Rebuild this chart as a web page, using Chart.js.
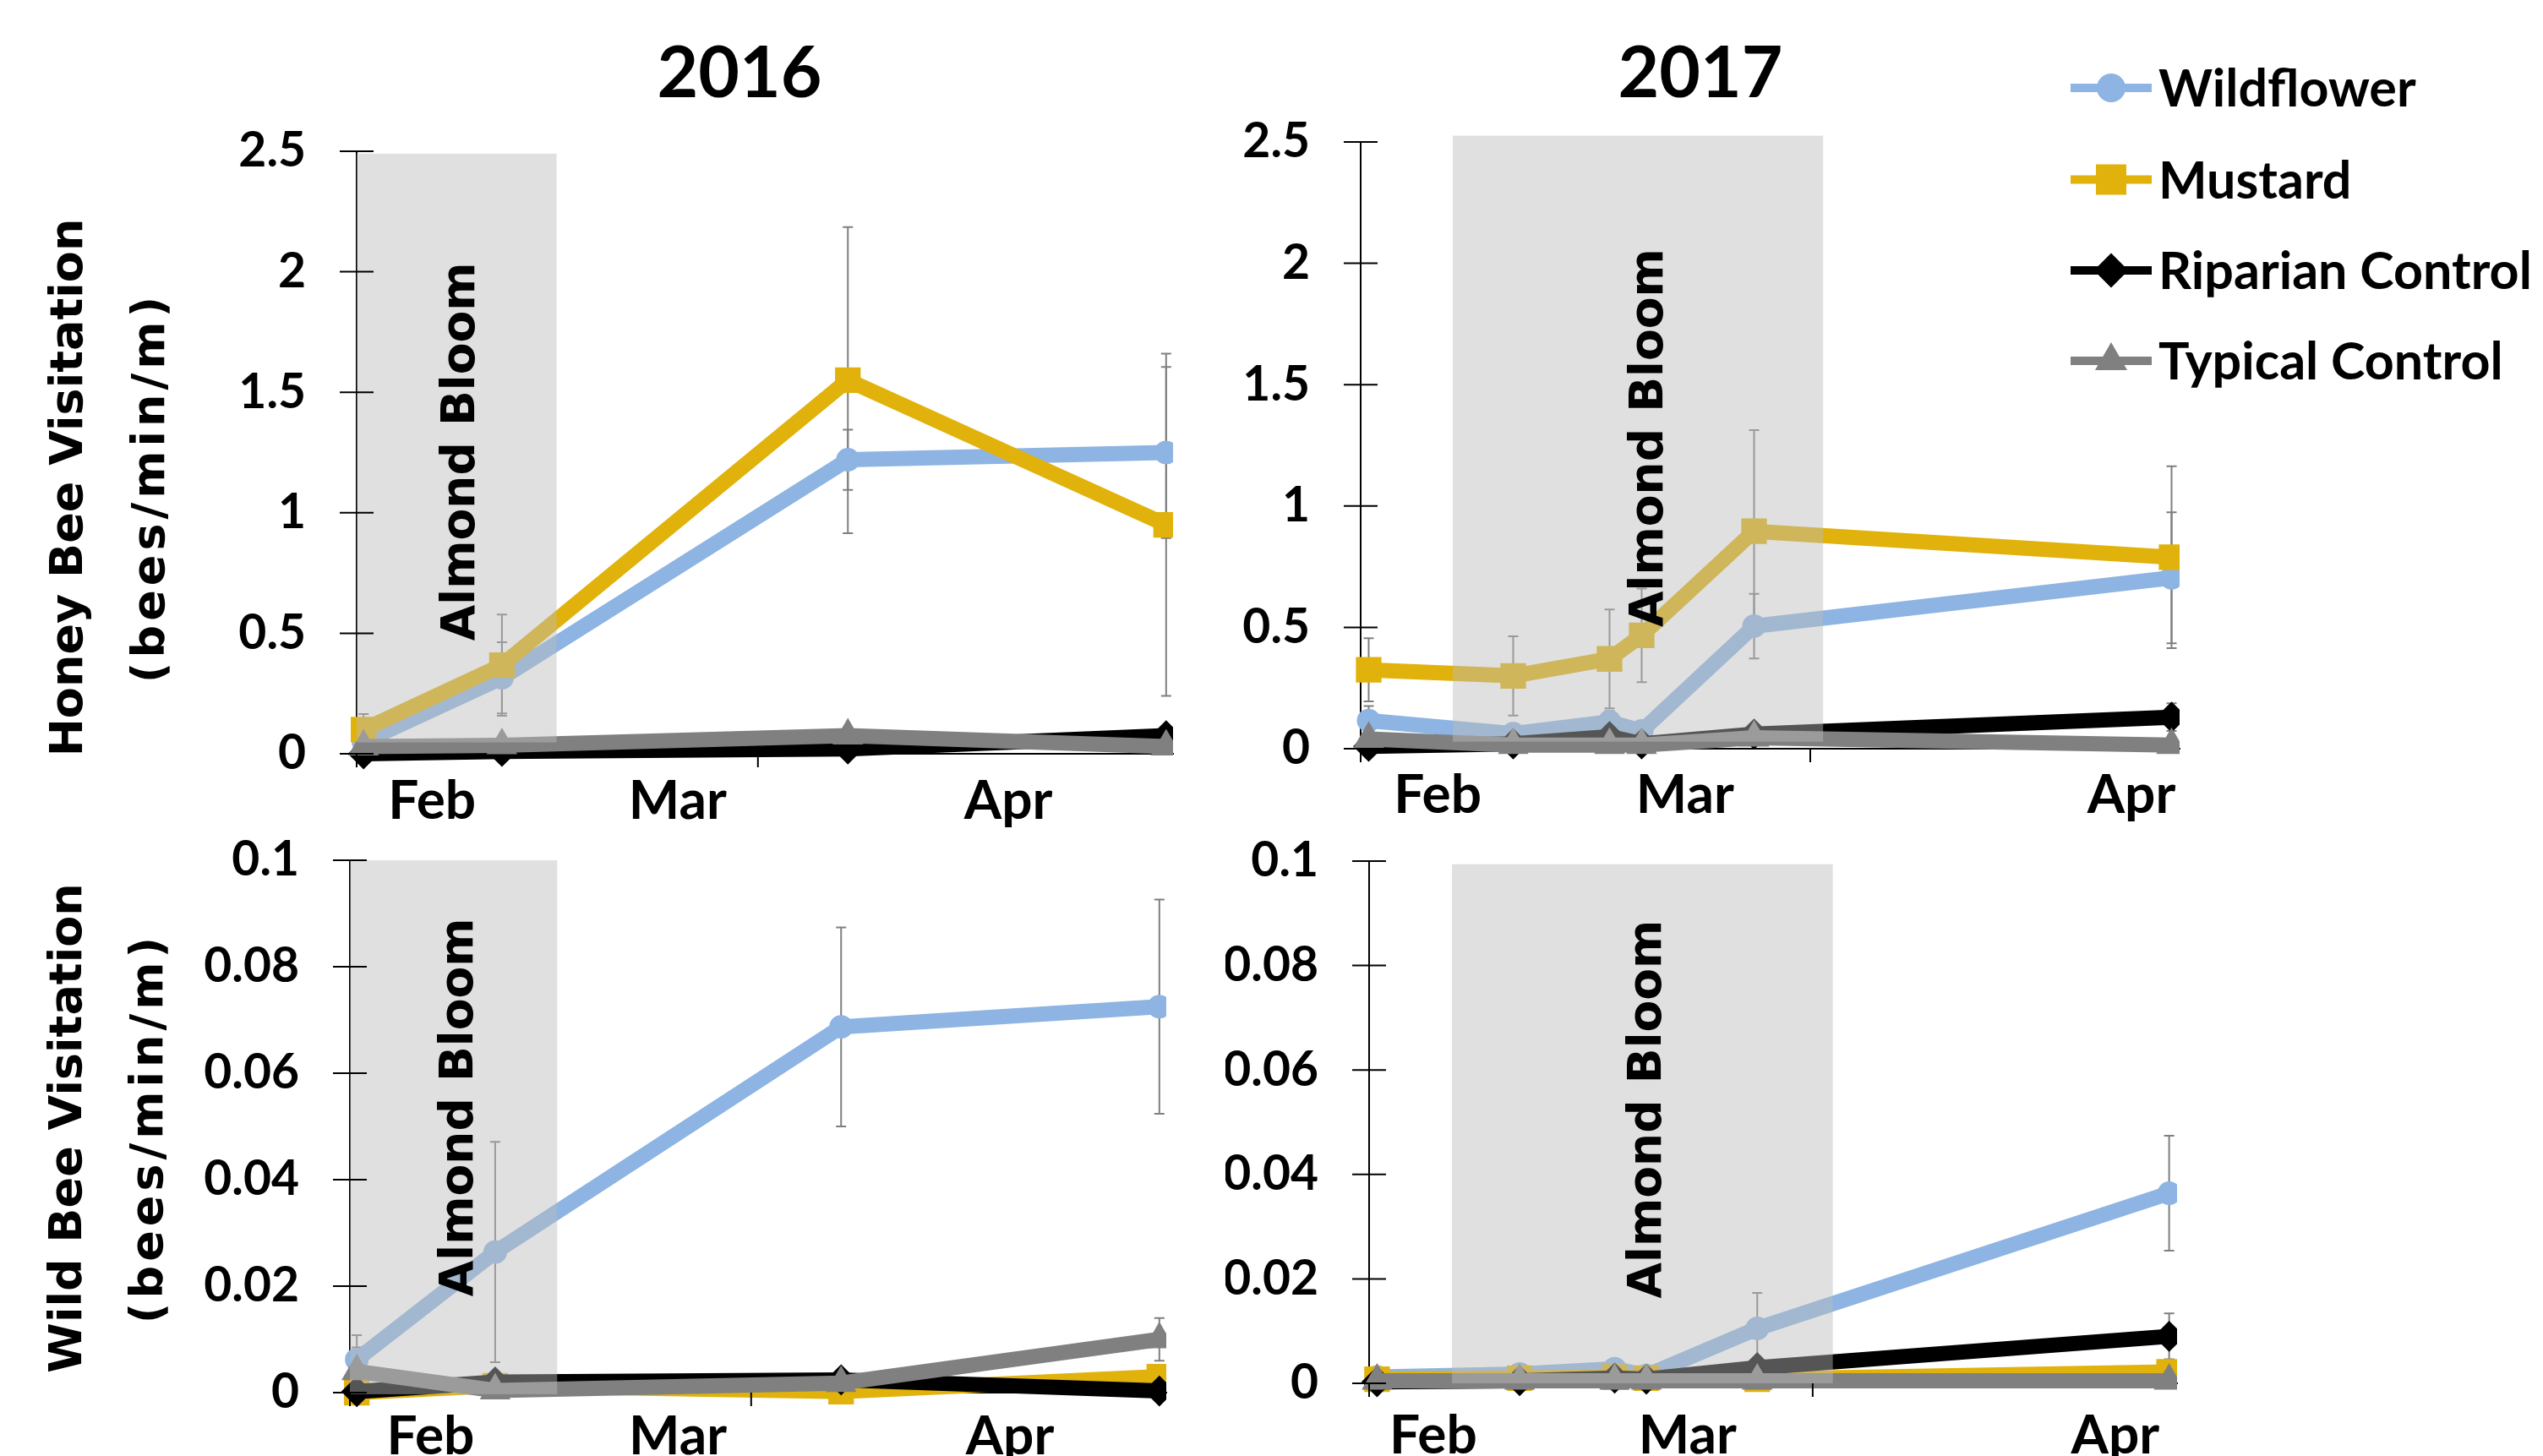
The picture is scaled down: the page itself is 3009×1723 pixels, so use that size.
<!DOCTYPE html>
<html>
<head>
<meta charset="utf-8">
<title>Bee visitation 2016-2017</title>
<script src="https://cdn.jsdelivr.net/npm/chart.js@4.4.1/dist/chart.umd.min.js"></script>
<style>
  html, body { margin: 0; padding: 0; background: #ffffff; }
  body { width: 3009px; height: 1723px; position: relative; overflow: hidden; }
  canvas { position: absolute; }
</style>
</head>
<body>
<script>
// ---------------------------------------------------------------------------
// Data
// ---------------------------------------------------------------------------
const seriesNames = ['Wildflower', 'Mustard', 'Riparian Control', 'Typical Control'];
const monthLabels = ['Feb', 'Mar', 'Apr'];

const honeyTicks = [0, 0.5, 1, 1.5, 2, 2.5];
const honeyTickLabels = ['0', '0.5', '1', '1.5', '2', '2.5'];
const wildTicks = [0, 0.02, 0.04, 0.06, 0.08, 0.1];
const wildTickLabels = ['0', '0.02', '0.04', '0.06', '0.08', '0.1'];

// survey dates, in days counted from 1 February
const surveyDays2016 = [0.5, 10.5, 35.5, 58.5];
const surveyDays2017 = [0.5, 9.5, 15.5, 17.5, 24.5, 50.5];

// honey bee visitation (bees/min/m): means and standard errors
const honey2016Wildflower   = [0.05, 0.315, 1.22, 1.25];
const honey2016WildflowerSE = [0.04, 0.148, 0.125, 0.355];
const honey2016Mustard      = [0.10, 0.368, 1.55, 0.95];
const honey2016MustardSE    = [0.065, 0.21, 0.635, 0.71];
const honey2016Riparian     = [0.0, 0.01, 0.02, 0.075];
const honey2016RiparianSE   = [0, 0, 0.005, 0.01];
const honey2016Typical      = [0.03, 0.035, 0.075, 0.03];
const honey2016TypicalSE    = [0.005, 0.005, 0.01, 0.005];

const honey2017Wildflower   = [0.116, 0.062, 0.111, 0.073, 0.505, 0.704];
const honey2017WildflowerSE = [0.06, 0.02, 0.045, 0.02, 0.133, 0.27];
const honey2017Mustard      = [0.325, 0.30, 0.37, 0.467, 0.896, 0.789];
const honey2017MustardSE    = [0.13, 0.163, 0.204, 0.193, 0.417, 0.375];
const honey2017Riparian     = [0.01, 0.02, 0.05, 0.02, 0.06, 0.13];
const honey2017RiparianSE   = [0.005, 0.005, 0.01, 0.005, 0.01, 0.057];
const honey2017Typical      = [0.04, 0.015, 0.015, 0.015, 0.045, 0.015];
const honey2017TypicalSE    = [0.005, 0.005, 0.005, 0.005, 0.01, 0.005];

// wild bee visitation (bees/min/m): means and standard errors
const wild2016Wildflower   = [0.0062, 0.0264, 0.0687, 0.0725];
const wild2016WildflowerSE = [0.0046, 0.0207, 0.0187, 0.0201];
const wild2016Mustard      = [0.0, 0.0013, 0.0002, 0.003];
const wild2016MustardSE    = [0, 0.0005, 0, 0.001];
const wild2016Riparian     = [0.0002, 0.002, 0.0024, 0.0003];
const wild2016RiparianSE   = [0, 0.0005, 0.0005, 0.0003];
const wild2016Typical      = [0.004, 0.0004, 0.0018, 0.010];
const wild2016TypicalSE    = [0.0045, 0.0004, 0.0005, 0.004];

const wild2017Wildflower   = [0.0012, 0.0018, 0.0028, 0.0015, 0.0105, 0.0364];
const wild2017WildflowerSE = [0.0005, 0.0008, 0.001, 0.0005, 0.0068, 0.011];
const wild2017Mustard      = [0.0008, 0.001, 0.0012, 0.001, 0.0008, 0.0022];
const wild2017MustardSE    = [0, 0, 0, 0, 0, 0.0005];
const wild2017Riparian     = [0.0003, 0.0005, 0.001, 0.0008, 0.003, 0.009];
const wild2017RiparianSE   = [0, 0, 0, 0, 0.0005, 0.0044];
const wild2017Typical      = [0.0005, 0.0005, 0.0005, 0.0005, 0.0005, 0.0005];
const wild2017TypicalSE    = [0, 0, 0, 0, 0, 0];

// ---------------------------------------------------------------------------
// Styling
// ---------------------------------------------------------------------------
const seriesColors  = ['#8DB4E2', '#E0B20B', '#000000', '#808080'];
const seriesMarkers = ['circle', 'rect', 'rectRot', 'triangle'];
const markerRadius  = [13, 20, 17, 19];
const legendRadius  = [16, 24, 19, 20];
const LINE_WIDTH = 18;
const TICK_FONT  = { family: 'Lato', weight: 'bold', size: 57 };
const MONTH_FONT = { family: 'Lato', weight: 'bold', size: 64 };
const SHADE = 'rgba(187,187,187,0.455)';

function buildDatasets(days, means, errors) {
  return seriesNames.map((name, k) => ({
    label: name,
    data: days.map((d, i) => ({ x: d, y: means[k][i] })),
    errors: errors[k],
    borderColor: seriesColors[k],
    backgroundColor: seriesColors[k],
    pointBackgroundColor: seriesColors[k],
    pointBorderColor: seriesColors[k],
    pointStyle: seriesMarkers[k],
    pointRadius: markerRadius[k],
    pointBorderWidth: 2,
    borderWidth: LINE_WIDTH,
    borderJoinStyle: 'round',
    borderCapStyle: 'round',
    tension: 0,
    order: 3 - k,
    clip: { left: false, top: false, right: 0, bottom: false }
  }));
}

// Shaded bloom window, error bars, cross ticks, rotated labels and legend
const panelDecor = {
  id: 'panelDecor',
  beforeDatasetsDraw(chart, args, o) {
    const { ctx } = chart;
    const xs = chart.scales.x, ys = chart.scales.y;
    ctx.save();
    ctx.strokeStyle = '#7F7F7F';
    ctx.lineWidth = 2;
    chart.data.datasets.forEach(ds => {
      (ds.errors || []).forEach((e, i) => {
        if (!e) return;
        const p = ds.data[i];
        const px = xs.getPixelForValue(p.x);
        const yHi = ys.getPixelForValue(p.y + e);
        const yLo = ys.getPixelForValue(p.y - e);
        ctx.beginPath();
        ctx.moveTo(px, yHi); ctx.lineTo(px, yLo);
        ctx.moveTo(px - 6, yHi); ctx.lineTo(px + 6, yHi);
        ctx.moveTo(px - 6, yLo); ctx.lineTo(px + 6, yLo);
        ctx.stroke();
      });
    });
    ctx.restore();
  },
  afterDatasetsDraw(chart, args, o) {
    const { ctx, chartArea } = chart;
    const xs = chart.scales.x, ys = chart.scales.y;
    ctx.save();
    // almond bloom window
    const b = o.bloom;
    const bx0 = xs.getPixelForValue(b.from), bx1 = xs.getPixelForValue(b.to);
    const by0 = ys.getPixelForValue(b.top), by1 = ys.getPixelForValue(b.bottom);
    ctx.fillStyle = SHADE;
    ctx.fillRect(bx0, by0, bx1 - bx0, by1 - by0);
    // its label
    const size = 55;
    const tx = xs.getPixelForValue(b.labelX), ty = ys.getPixelForValue(b.labelY);
    ctx.translate(tx + 0.38 * size, ty);
    ctx.rotate(-Math.PI / 2);
    ctx.fillStyle = '#000';
    ctx.font = 'bold ' + size + 'px "DejaVu Sans"';
    ctx.textAlign = 'center';
    ctx.textBaseline = 'alphabetic';
    ctx.fillText('Almond Bloom', 0, 0);
    ctx.setTransform(1, 0, 0, 1, 0, 0);
    // tick marks crossing the value axis
    ctx.strokeStyle = '#000';
    ctx.lineWidth = 2;
    ctx.beginPath();
    ys.ticks.forEach(t => {
      const py = ys.getPixelForValue(t.value);
      ctx.moveTo(chartArea.left - 20, py);
      ctx.lineTo(chartArea.left + 20, py);
    });
    // month boundary marks below the date axis
    o.dayMarks.forEach(v => {
      const px = xs.getPixelForValue(v);
      ctx.moveTo(px, chartArea.bottom);
      ctx.lineTo(px, chartArea.bottom + 16);
    });
    ctx.stroke();
    ctx.restore();
  },
  afterDraw(chart, args, o) {
    const { ctx } = chart;
    ctx.save();
    ctx.fillStyle = '#000';
    (o.texts || []).forEach(t => {
      ctx.save();
      ctx.font = t.font;
      if (t.spacing) ctx.letterSpacing = t.spacing;
      ctx.textAlign = 'center';
      ctx.textBaseline = 'alphabetic';
      ctx.translate(t.x - o.offsetX, t.y - o.offsetY);
      if (t.rot) ctx.rotate(t.rot);
      ctx.fillText(t.text, 0, 0);
      ctx.restore();
    });
    if (o.legend) {
      const L = o.legend;
      chart.data.datasets.forEach((ds, k) => {
        const y = L.rows[k] - o.offsetY;
        const x0 = L.x0 - o.offsetX, x1 = L.x1 - o.offsetX;
        ctx.strokeStyle = ds.borderColor;
        ctx.fillStyle = ds.borderColor;
        ctx.lineWidth = 10;
        ctx.beginPath();
        ctx.moveTo(x0, y); ctx.lineTo(x1, y);
        ctx.stroke();
        ctx.lineWidth = 2;
        Chart.helpers.drawPoint(ctx, {
          pointStyle: ds.pointStyle, radius: legendRadius[k], borderWidth: 2, rotation: 0
        }, (x0 + x1) / 2, y);
        ctx.fillStyle = '#000';
        ctx.font = 'bold 61px Lato';
        ctx.textAlign = 'left';
        ctx.textBaseline = 'alphabetic';
        ctx.fillText(ds.label, L.textX - o.offsetX, y + 22);
      });
    }
    ctx.restore();
  }
};

function makePanel(p) {
  const c = document.createElement('canvas');
  c.width = p.w; c.height = p.h;
  c.style.left = p.left + 'px';
  c.style.top = p.top + 'px';
  c.style.width = p.w + 'px';
  c.style.height = p.h + 'px';
  document.body.appendChild(c);
  return new Chart(c, {
    type: 'line',
    data: { datasets: p.datasets },
    options: {
      responsive: false,
      animation: false,
      devicePixelRatio: 1,
      events: [],
      layout: { padding: { left: 0, top: p.area.top - p.top, right: p.left + p.w - p.area.right, bottom: 0 } },
      plugins: {
        legend: { display: false },
        tooltip: { enabled: false },
        panelDecor: {
          offsetX: p.left, offsetY: p.top,
          bloom: p.bloom, dayMarks: p.dayMarks,
          texts: p.texts, legend: p.legend
        }
      },
      scales: {
        x: {
          type: 'linear', min: 0, max: p.xMax,
          afterBuildTicks: s => { s.ticks = p.monthPos.map(v => ({ value: v })); },
          afterFit: s => {
            s.height = p.top + p.h - p.area.bottom;
            s.paddingLeft = 0; s.paddingRight = 0;
          },
          ticks: {
            autoSkip: false, maxRotation: 0, minRotation: 0,
            padding: p.monthPad, color: '#000', font: MONTH_FONT,
            callback: (v, i) => monthLabels[i]
          },
          grid: { display: false, drawTicks: false },
          border: { display: true, color: '#000', width: 2 }
        },
        y: {
          type: 'linear', min: 0, max: p.yMax,
          afterBuildTicks: s => { s.ticks = p.yTicks.map(v => ({ value: v })); },
          afterFit: s => {
            s.width = p.area.left - p.left;
            s.paddingTop = 0; s.paddingBottom = 0;
          },
          ticks: {
            padding: 60, color: '#000', font: TICK_FONT,
            callback: (v, i) => p.yTickLabels[i]
          },
          grid: { display: false, drawTicks: false },
          border: { display: true, color: '#000', width: 2 }
        }
      }
    },
    plugins: [panelDecor]
  });
}

function build() {
  const AXIS_TITLE = 'bold 54px "DejaVu Sans"';
  const UP = -Math.PI / 2;

  // 2016 honey bees
  makePanel({
    left: 0, top: 0, w: 1450, h: 1010,
    area: { left: 422, top: 179, right: 1388, bottom: 892 },
    xMax: 59, yMax: 2.5, yTicks: honeyTicks, yTickLabels: honeyTickLabels,
    monthPos: [5.45, 23.2, 47.1], monthPad: 18, dayMarks: [0, 29],
    bloom: { from: 0, to: 14.45, bottom: 0.047, top: 2.49, labelX: 7.2, labelY: 1.254 },
    datasets: buildDatasets(surveyDays2016,
      [honey2016Wildflower, honey2016Mustard, honey2016Riparian, honey2016Typical],
      [honey2016WildflowerSE, honey2016MustardSE, honey2016RiparianSE, honey2016TypicalSE]),
    texts: [
      { text: '2016', x: 875, y: 115, font: 'bold 84px Lato' },
      { text: 'Honey Bee Visitation', x: 97, y: 577, font: AXIS_TITLE, rot: UP },
      { text: '(bees/min/m)', x: 194, y: 577, font: AXIS_TITLE, rot: UP, spacing: '5px' }
    ]
  });

  // 2017 honey bees, with the shared legend
  makePanel({
    left: 1450, top: 0, w: 1559, h: 1010,
    area: { left: 1610, top: 168, right: 2579, bottom: 886 },
    xMax: 51, yMax: 2.5, yTicks: honeyTicks, yTickLabels: honeyTickLabels,
    monthPos: [4.8, 20.2, 48.0], monthPad: 17, dayMarks: [0, 28],
    bloom: { from: 5.74, to: 28.8, bottom: 0.029, top: 2.526, labelX: 17.7, labelY: 1.281 },
    datasets: buildDatasets(surveyDays2017,
      [honey2017Wildflower, honey2017Mustard, honey2017Riparian, honey2017Typical],
      [honey2017WildflowerSE, honey2017MustardSE, honey2017RiparianSE, honey2017TypicalSE]),
    texts: [
      { text: '2017', x: 2012, y: 115, font: 'bold 84px Lato' }
    ],
    legend: { x0: 2450, x1: 2546, textX: 2554, rows: [104, 212.5, 320, 427] }
  });

  // 2016 wild bees
  makePanel({
    left: 0, top: 960, w: 1450, h: 763,
    area: { left: 414, top: 1018, right: 1380, bottom: 1648 },
    xMax: 59, yMax: 0.1, yTicks: wildTicks, yTickLabels: wildTickLabels,
    monthPos: [5.83, 23.7, 47.7], monthPad: 14, dayMarks: [0, 29],
    bloom: { from: 0, to: 14.98, bottom: -0.0003, top: 0.1, labelX: 7.6, labelY: 0.0536 },
    datasets: buildDatasets(surveyDays2016,
      [wild2016Wildflower, wild2016Mustard, wild2016Riparian, wild2016Typical],
      [wild2016WildflowerSE, wild2016MustardSE, wild2016RiparianSE, wild2016TypicalSE]),
    texts: [
      { text: 'Wild Bee Visitation', x: 96, y: 1335, font: AXIS_TITLE, rot: UP },
      { text: '(bees/min/m)', x: 192, y: 1335, font: AXIS_TITLE, rot: UP, spacing: '5px' }
    ]
  });

  // 2017 wild bees
  makePanel({
    left: 1450, top: 960, w: 1559, h: 763,
    area: { left: 1620, top: 1019, right: 2576, bottom: 1637 },
    xMax: 51, yMax: 0.1, yTicks: wildTicks, yTickLabels: wildTickLabels,
    monthPos: [4.05, 20.1, 47.1], monthPad: 24, dayMarks: [0, 28],
    bloom: { from: 5.23, to: 29.27, bottom: 0, top: 0.0994, labelX: 17.3, labelY: 0.0525 },
    datasets: buildDatasets(surveyDays2017,
      [wild2017Wildflower, wild2017Mustard, wild2017Riparian, wild2017Typical],
      [wild2017WildflowerSE, wild2017MustardSE, wild2017RiparianSE, wild2017TypicalSE]),
    texts: []
  });
}

const fontLoads = [
  'bold 57px Lato', 'bold 84px Lato', 'bold 54px "DejaVu Sans"'
].map(f => document.fonts.load(f).catch(() => null));
Promise.all(fontLoads).then(build, build);
</script>
</body>
</html>
